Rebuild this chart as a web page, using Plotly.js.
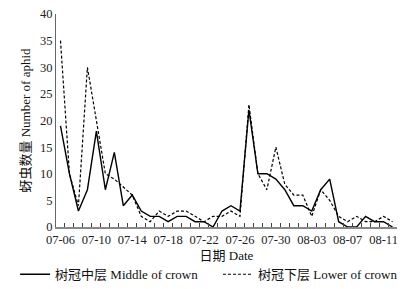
<!DOCTYPE html>
<html><head><meta charset="utf-8">
<script src="https://cdn.plot.ly/plotly-3.0.1.min.js"></script>
<style>html,body{margin:0;padding:0;background:#fff}#chart{width:405px;height:289px}</style>
</head><body><div id="chart"></div>
<script>
// Dates (categories)
const dates = ['07-06','07-07','07-08','07-09','07-10','07-11','07-12','07-13','07-14','07-15',
  '07-16','07-17','07-18','07-19','07-20','07-21','07-22','07-23','07-24','07-25',
  '07-26','07-27','07-28','07-29','07-30','07-31','08-01','08-02','08-03','08-04',
  '08-05','08-06','08-07','08-08','08-09','08-10','08-11','08-12'];
// 树冠中层 Middle of crown
const middleCrown = [19,10,3,7,18,7,14,4,6,3, 2,2,1,2,2,1,1,0,3,4, 3,22,10,10,9,7,4,4,3,7, 9,1,0,0,2,1,1,0];
// 树冠下层 Lower of crown
const lowerCrown = [35,10,4,30,20,10,9,7.5,6,2, 1,3,2,3,3,2,1,2,2,3, 2,23,10,7,15,8,6,6,2,7, 5,2,1,2,1,1,2,1];
const tickLabels = ['07-06','07-10','07-14','07-18','07-22','07-26','07-30','08-03','08-07','08-11'];
const yTicks = [0,5,10,15,20,25,30,35,40];
const seriesNames = ['树冠中层 Middle of crown','树冠下层 Lower of crown'];
const xTitle = '日期 Date';
const yTitle = '蚜虫数量 Number of aphid';

const FONT = '"Liberation Serif","Times New Roman","Noto Sans CJK SC",serif';

const traces = [
  {x: dates, y: middleCrown, name: seriesNames[0], type: 'scatter', mode: 'lines',
   line: {color: '#000', width: 1.4}, legend: 'legend'},
  {x: dates, y: lowerCrown, name: seriesNames[1], type: 'scatter', mode: 'lines',
   line: {color: '#000', width: 1.2, dash: '3px,2px'}, legend: 'legend2'}
];

const legendBase = {orientation: 'h', xanchor: 'left', yanchor: 'middle', y: -0.222,
  font: {family: FONT, size: 13, color: '#111'}, bgcolor: 'rgba(0,0,0,0)', borderwidth: 0};

const layout = {
  width: 405, height: 289,
  margin: {l: 56, r: 8, t: 14, b: 62, autoexpand: false},
  paper_bgcolor: '#fff', plot_bgcolor: '#fff',
  showlegend: true,
  xaxis: {
    type: 'category', range: [-0.5, dates.length - 0.5], automargin: true,
    tickmode: 'array', tickvals: dates, tickangle: 0,
    ticktext: dates.map(d => tickLabels.includes(d) ? d : ''),
    tickson: 'boundaries', ticks: 'inside', ticklen: 4, tickcolor: '#444', tickwidth: 1,
    showline: true, linecolor: '#888', linewidth: 1.5, showgrid: false, zeroline: false,
    tickfont: {family: FONT, size: 12.5, color: '#222'},
    title: {text: xTitle, font: {family: FONT, size: 13, color: '#111'}, standoff: 5}
  },
  yaxis: {
    range: [0, 40], tickmode: 'array', tickvals: yTicks, automargin: true,
    showline: true, linecolor: '#666', linewidth: 1, showgrid: false, zeroline: false,
    ticks: '', tickfont: {family: FONT, size: 12.5, color: '#222'},
    title: {text: yTitle, font: {family: FONT, size: 13, color: '#111'}, standoff: 6}
  },
  legend: Object.assign({}, legendBase, {x: -0.12}),
  legend2: Object.assign({}, legendBase, {x: 0.475})
};

Plotly.newPlot('chart', traces, layout, {displayModeBar: false, staticPlot: true});
</script>
</body></html>
